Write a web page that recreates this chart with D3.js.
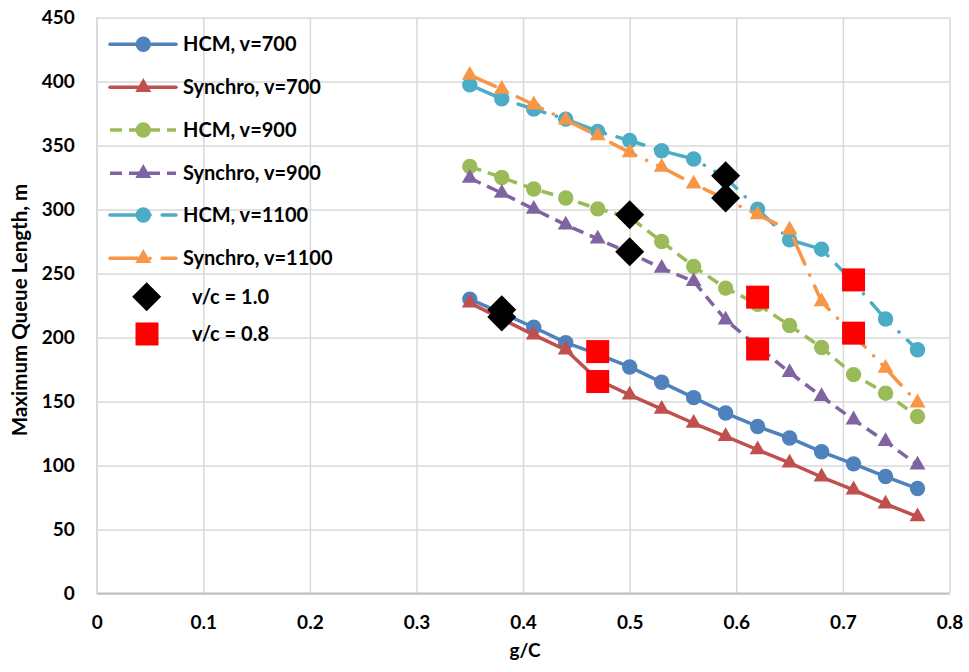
<!DOCTYPE html>
<html><head><meta charset="utf-8">
<script src="https://cdn.jsdelivr.net/npm/d3@7"></script>
<style>
body{margin:0;background:#fff}
text{font-family:Lato,"Open Sans",sans-serif;font-weight:bold;fill:#000}
</style>
</head><body>
<svg id="c" width="969" height="672"></svg>
<script>
const gc = [0.35,0.38,0.41,0.44,0.47,0.50,0.53,0.56,0.59,0.62,0.65,0.68,0.71,0.74,0.77];
const hcm700  = [230,219,208,196,187,177,165,153,141,130.5,121.5,110.7,101.3,91.4,82];
const syn700  = [227,214.5,202,190.4,167,155.2,144,133,122.7,112.3,102,91,81,70,60];
const hcm900  = [333.6,325,316,309,300.5,294,275,255.5,238.6,226,209.4,192.2,171,156.5,138.3];
const syn900  = [324.5,312.8,300.3,288,277,266,254.2,243.8,213.8,193,172.7,153.9,135.7,118.8,100.5];
const hcm1100 = [397.4,386.5,378.4,370.6,361,353.9,345.9,339.4,325,300.3,276.3,269,243,214.4,190.4];
const syn1100 = [405,394,381.8,370,357.6,344.5,333,320,308,295.9,284,228,202,176,149];
const vc10X = [0.38,0.38,0.50,0.50,0.59,0.59];
const vc10Y = [221.6,216,295.9,267,326.3,308.9];
const vc08X = [0.47,0.47,0.62,0.62,0.71,0.71];
const vc08Y = [189,165.6,231.5,191,245,203.4];
const xTicks = [0,0.1,0.2,0.3,0.4,0.5,0.6,0.7,0.8];
const yTicks = [0,50,100,150,200,250,300,350,400,450];
const seriesNames = ["HCM, v=700","Synchro, v=700","HCM, v=900","Synchro, v=900","HCM, v=1100","Synchro, v=1100"];
const seriesData = [hcm700,syn700,hcm900,syn900,hcm1100,syn1100];
const colors = ["#4F81BD","#C0504D","#9BBB59","#8064A2","#4BACC6","#F79646"];
const shapes = ["circle","triangle","circle","triangle","circle","triangle"];
const dashes = [null,null,"12,7","12,7","28,12,0.1,12","28,12,0.1,12"];
const caps = ["round","round","butt","butt","round","round"];

const svg = d3.select("#c");
const x = d3.scaleLinear().domain([0,0.8]).range([96.7,949.5]);
const y = d3.scaleLinear().domain([0,450]).range([593.5,17.5]);
const W = x.range()[1]-x.range()[0], H = y.range()[0]-y.range()[1];

const gx = svg.append("g").attr("transform",`translate(0,${y(0)})`)
  .call(d3.axisBottom(x).tickValues(xTicks).tickFormat(d=>d===0?"0":d3.format(".1f")(d)).tickSize(-H).tickPadding(22));
const gy = svg.append("g").attr("transform",`translate(${x(0)},0)`)
  .call(d3.axisLeft(y).tickValues(yTicks).tickFormat(d3.format("d")).tickSize(-W).tickPadding(22));
[gx,gy].forEach(g=>{
  g.select(".domain").remove();
  g.selectAll(".tick line").attr("stroke","#d9d9d9").attr("stroke-width",1.5);
  g.selectAll(".tick text").attr("font-size",19).attr("font-family","Lato, sans-serif").attr("font-weight","bold").attr("fill","#000");
});
svg.append("line").attr("x1",x(0)).attr("x2",x(0.8)).attr("y1",y(0)).attr("y2",y(0)).attr("stroke","#bfbfbf").attr("stroke-width",2);
svg.append("line").attr("x1",x(0)).attr("x2",x(0)).attr("y1",y(0)).attr("y2",y(450)).attr("stroke","#d9d9d9").attr("stroke-width",1.5);

svg.append("text").attr("x",525).attr("y",657).attr("text-anchor","middle").attr("font-size",19).text("g/C");
svg.append("text").attr("transform","translate(27,310) rotate(-90)").attr("text-anchor","middle").attr("font-size",20.5).text("Maximum Queue Length, m");

function sym(shape){
  return d3.symbol().type(shape==="circle"?d3.symbolCircle:d3.symbolTriangle).size(shape==="circle"?Math.PI*7.7*7.7:110)();
}
const line = d3.line().x(d=>x(d[0])).y(d=>y(d[1]));

seriesData.forEach((vals,i)=>{
  const pts = gc.map((g,j)=>[g,vals[j]]);
  const g = svg.append("g");
  g.append("path").datum(pts).attr("d",line).attr("fill","none").attr("stroke",colors[i])
    .attr("stroke-width",3.5).attr("stroke-dasharray",dashes[i]).attr("stroke-linecap",caps[i]).attr("stroke-linejoin","round");
  g.selectAll("path.m").data(pts).join("path").attr("class","m")
    .attr("transform",d=>`translate(${x(d[0])},${y(d[1])})`).attr("d",sym(shapes[i])).attr("fill",colors[i]);
});
const diam = d3.symbol().type(d3.symbolSquare).size(420)();
svg.append("g").selectAll("path").data(vc10X.map((v,j)=>[v,vc10Y[j]])).join("path")
  .attr("transform",d=>`translate(${x(d[0])},${y(d[1])}) rotate(45)`).attr("d",diam).attr("fill","#000");
const sq = d3.symbol().type(d3.symbolSquare).size(529)();
svg.append("g").selectAll("path").data(vc08X.map((v,j)=>[v,vc08Y[j]])).join("path")
  .attr("transform",d=>`translate(${x(d[0])},${y(d[1])})`).attr("d",sq).attr("fill","#FF0000");

const lg = svg.append("g");
const rowY = [44.3,87.3,130,173.3,215,258.3];
seriesNames.forEach((n,i)=>{
  const r = lg.append("g").attr("transform",`translate(0,${rowY[i]})`);
  r.append("line").attr("x1",110).attr("x2",176).attr("y1",0).attr("y2",0).attr("stroke",colors[i]).attr("stroke-width",3.5)
    .attr("stroke-dasharray",dashes[i]).attr("stroke-linecap",caps[i]);
  r.append("path").attr("transform","translate(143.3,0)").attr("d",sym(shapes[i])).attr("fill",colors[i]);
  r.append("text").attr("x",183).attr("y",7).attr("font-size",20).text(n);
});
const r1 = lg.append("g").attr("transform","translate(0,296.7)");
r1.append("path").attr("transform","translate(146.7,0) rotate(45)").attr("d",diam).attr("fill","#000");
r1.append("text").attr("x",192).attr("y",7).attr("font-size",20).text("v/c = 1.0");
const r2 = lg.append("g").attr("transform","translate(0,334)");
r2.append("path").attr("transform","translate(147,0)").attr("d",sq).attr("fill","#FF0000");
r2.append("text").attr("x",192).attr("y",7).attr("font-size",20).text("v/c = 0.8");
</script>
</body></html>
